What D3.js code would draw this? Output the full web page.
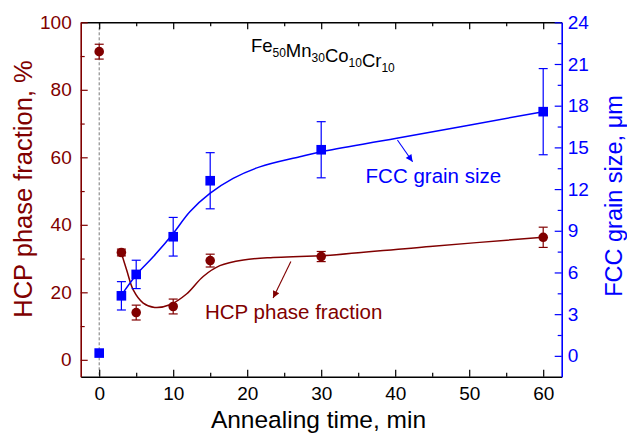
<!DOCTYPE html>
<html>
<head>
<meta charset="utf-8">
<script src="https://cdn.jsdelivr.net/npm/d3@7"></script>
<style>
    body { margin: 0; background: #fff; }
    text { font-family: "Liberation Sans", Arial, sans-serif; }
</style>
</head>
<body>
<div id="chartContent"></div>
<script>
//Measured points
var times = [0, 3, 5, 10, 15, 30, 60];
var hcpFraction = [91.3, 31.8, 14.0, 15.8, 29.4, 30.6, 36.3];
var hcpError = [2.2, 1.0, 2.2, 2.2, 1.9, 1.5, 3.0];
var fccTimes = [0, 3, 5, 10, 15, 30, 60];
var fccSize = [0.2, 4.32, 5.86, 8.57, 12.6, 14.83, 17.57];
var fccError = [0, 1.02, 1.02, 1.39, 2.02, 2.02, 3.1];

//Fitted curves
var hcpFitTimes = [3, 3.7, 4.6, 5.95, 7.5, 9.55, 11.8, 14.05, 16.3, 19.5, 23.5, 27.1, 30, 44.7, 60];
var hcpFitValues = [31.6, 26.7, 20.7, 16.8, 15.5, 16.3, 19.5, 24.7, 27.9, 29.6, 30.3, 30.6, 30.8, 33.6, 36.3];
var fccFitTimes = [3, 5.05, 7.3, 10, 12.25, 14.96, 18.1, 21.7, 27.1, 30, 40.2, 60];
var fccFitValues = [4.37, 5.86, 7.13, 8.81, 10.37, 11.69, 12.77, 13.6, 14.33, 14.69, 15.65, 17.57];

var xTicks = [0, 10, 20, 30, 40, 50, 60];
var leftTicks = [0, 20, 40, 60, 80, 100];
var rightTicks = [0, 3, 6, 9, 12, 15, 18, 21, 24];

var red = "#800000";
var blue = "#0000ff";

var svgWidth = 627, svgHeight = 434;
var margin = {top: 22.3, right: 65.3, bottom: 57.3, left: 80.7};
var chartWidth = svgWidth - margin.left - margin.right;
var chartHeight = svgHeight - margin.top - margin.bottom;

var svg = d3.select("#chartContent")
    .append("svg")
    .attr("width", svgWidth)
    .attr("height", svgHeight);

var defs = svg.append("defs");
[["arrowRed", red], ["arrowBlue", blue]].forEach(d => {
    defs.append("marker")
        .attr("id", d[0])
        .attr("viewBox", "0 0 10 10")
        .attr("refX", 10)
        .attr("refY", 5)
        .attr("markerWidth", 9)
        .attr("markerHeight", 7)
        .attr("markerUnits", "userSpaceOnUse")
        .attr("orient", "auto")
        .append("path")
        .attr("d", "M0,0 L10,5 L0,10 z")
        .attr("fill", d[1]);
});

var chartGroup = svg.append("g")
    .attr("transform", `translate(${margin.left},${margin.top})`);

var xScale = d3.scaleLinear().domain([-2.5, 62.5]).range([0, chartWidth]);
var yLeft = d3.scaleLinear().domain([-5, 100]).range([chartHeight, 0]);
var yRight = d3.scaleLinear().domain([-1.5, 24]).range([chartHeight, 0]);

//Dashed line at t = 0
chartGroup.append("line")
    .attr("x1", xScale(0)).attr("x2", xScale(0))
    .attr("y1", 0).attr("y2", chartHeight)
    .attr("stroke", "#555")
    .attr("stroke-width", 0.8)
    .attr("stroke-dasharray", "3,2");

//Axes
function styleAxis(g, color) {
    g.selectAll("path").attr("stroke", color).attr("stroke-width", 1.6);
    g.selectAll("line").attr("stroke", color).attr("stroke-width", 1.2);
    g.selectAll("text").attr("fill", color).style("font-size", "19px")
        .style("font-family", "'Liberation Sans', Arial, sans-serif");
}

var minorX = d3.range(5, 60, 10);
var minorLeft = d3.range(10, 100, 20);
var minorRight = d3.range(1.5, 24, 3);

chartGroup.append("g")
    .attr("transform", `translate(0,${chartHeight})`)
    .call(d3.axisBottom(xScale).tickValues(minorX).tickSize(-4).tickFormat(""))
    .call(g => g.select("path").remove())
    .call(g => styleAxis(g, "#000"));
chartGroup.append("g")
    .attr("transform", `translate(0,${chartHeight})`)
    .call(d3.axisBottom(xScale).tickValues(xTicks).tickSizeInner(-7).tickSizeOuter(0).tickPadding(10))
    .call(g => styleAxis(g, "#000"));

chartGroup.append("g")
    .call(d3.axisTop(xScale).tickValues(minorX).tickSize(-4).tickFormat(""))
    .call(g => g.select("path").remove())
    .call(g => styleAxis(g, "#000"));
chartGroup.append("g")
    .call(d3.axisTop(xScale).tickValues(xTicks).tickSizeInner(-7).tickSizeOuter(0).tickFormat(""))
    .call(g => styleAxis(g, "#000"));

chartGroup.append("g")
    .call(d3.axisLeft(yLeft).tickValues(minorLeft).tickSize(-4).tickFormat(""))
    .call(g => g.select("path").remove())
    .call(g => styleAxis(g, red));
chartGroup.append("g")
    .call(d3.axisLeft(yLeft).tickValues(leftTicks).tickSizeInner(-7).tickSizeOuter(0).tickPadding(9))
    .call(g => styleAxis(g, red));

chartGroup.append("g")
    .attr("transform", `translate(${chartWidth},0)`)
    .call(d3.axisRight(yRight).tickValues(minorRight).tickSize(-4).tickFormat(""))
    .call(g => g.select("path").remove())
    .call(g => styleAxis(g, blue));
chartGroup.append("g")
    .attr("transform", `translate(${chartWidth},0)`)
    .call(d3.axisRight(yRight).tickValues(rightTicks).tickSizeInner(-7).tickSizeOuter(0).tickPadding(6))
    .call(g => styleAxis(g, blue));

//Fit lines
var hcpLine = d3.line()
    .x(d => xScale(d[0]))
    .y(d => yLeft(d[1]))
    .curve(d3.curveCatmullRom);
var fccLine = d3.line()
    .x(d => xScale(d[0]))
    .y(d => yRight(d[1]))
    .curve(d3.curveCatmullRom);

chartGroup.append("path")
    .datum(d3.zip(hcpFitTimes, hcpFitValues))
    .attr("d", hcpLine)
    .attr("fill", "none")
    .attr("stroke", red)
    .attr("stroke-width", 1.5);
chartGroup.append("path")
    .datum(d3.zip(fccFitTimes, fccFitValues))
    .attr("d", fccLine)
    .attr("fill", "none")
    .attr("stroke", blue)
    .attr("stroke-width", 1.5);

//Error bars
function errorBars(ts, vals, errs, scale, color) {
    var data = d3.zip(ts, vals, errs).filter(d => d[2] > 0);
    var g = chartGroup.append("g").attr("stroke", color).attr("stroke-width", 1.2);
    g.selectAll(".bar")
        .data(data)
        .enter()
        .append("line")
        .attr("x1", d => xScale(d[0])).attr("x2", d => xScale(d[0]))
        .attr("y1", d => scale(d[1] - d[2])).attr("y2", d => scale(d[1] + d[2]));
    [-1, 1].forEach(s => {
        g.selectAll(".cap" + s)
            .data(data)
            .enter()
            .append("line")
            .attr("x1", d => xScale(d[0]) - 4.5).attr("x2", d => xScale(d[0]) + 4.5)
            .attr("y1", d => scale(d[1] + s * d[2])).attr("y2", d => scale(d[1] + s * d[2]));
    });
}
errorBars(times, hcpFraction, hcpError, yLeft, red);
errorBars(fccTimes, fccSize, fccError, yRight, blue);

//Points
chartGroup.selectAll(".hcp")
    .data(d3.zip(times, hcpFraction))
    .enter()
    .append("circle")
    .attr("cx", d => xScale(d[0]))
    .attr("cy", d => yLeft(d[1]))
    .attr("r", 4.8)
    .attr("fill", red);

chartGroup.selectAll(".fcc")
    .data(d3.zip(fccTimes, fccSize))
    .enter()
    .append("rect")
    .attr("x", d => xScale(d[0]) - 4.8)
    .attr("y", d => yRight(d[1]) - 4.8)
    .attr("width", 9.6)
    .attr("height", 9.6)
    .attr("fill", blue);

//Annotations
chartGroup.append("line")
    .attr("x1", xScale(40.3)).attr("y1", yRight(15.53))
    .attr("x2", xScale(42.35)).attr("y2", yRight(13.97))
    .attr("stroke", blue).attr("stroke-width", 1.1)
    .attr("marker-end", "url(#arrowBlue)");
chartGroup.append("line")
    .attr("x1", xScale(25.9)).attr("y1", yLeft(29.1))
    .attr("x2", xScale(23.5)).attr("y2", yLeft(18.3))
    .attr("stroke", red).attr("stroke-width", 1.1)
    .attr("marker-end", "url(#arrowRed)");

chartGroup.append("text")
    .attr("x", xScale(36.0)).attr("y", yRight(12.45))
    .attr("fill", blue).style("font-size", "20.5px")
    .text("FCC grain size");
chartGroup.append("text")
    .attr("x", xScale(14.3)).attr("y", yLeft(12.1))
    .attr("fill", red).style("font-size", "20.5px")
    .text("HCP phase fraction");

var formula = chartGroup.append("text")
    .attr("x", xScale(20.5)).attr("y", yLeft(91.3))
    .attr("fill", "#000").style("font-size", "18.5px");
[["Fe", "50"], ["Mn", "30"], ["Co", "10"], ["Cr", "10"]].forEach(p => {
    formula.append("tspan").attr("dy", 0).text(p[0]);
    formula.append("tspan").attr("dy", 5).style("font-size", "12px").text(p[1]);
    formula.append("tspan").attr("dy", -5).text("");
});

//Axis titles
svg.append("text")
    .attr("x", 318.5).attr("y", 428)
    .attr("text-anchor", "middle")
    .style("font-size", "24.5px")
    .text("Annealing time, min");

svg.append("text")
    .attr("transform", "translate(31.7,189) rotate(-90)")
    .attr("text-anchor", "middle")
    .attr("fill", red)
    .style("font-size", "25.5px")
    .text("HCP phase fraction, %");

svg.append("text")
    .attr("transform", "translate(621.7,196) rotate(-90)")
    .attr("text-anchor", "middle")
    .attr("fill", blue)
    .style("font-size", "23.5px")
    .text("FCC grain size, μm");
</script>
</body>
</html>
